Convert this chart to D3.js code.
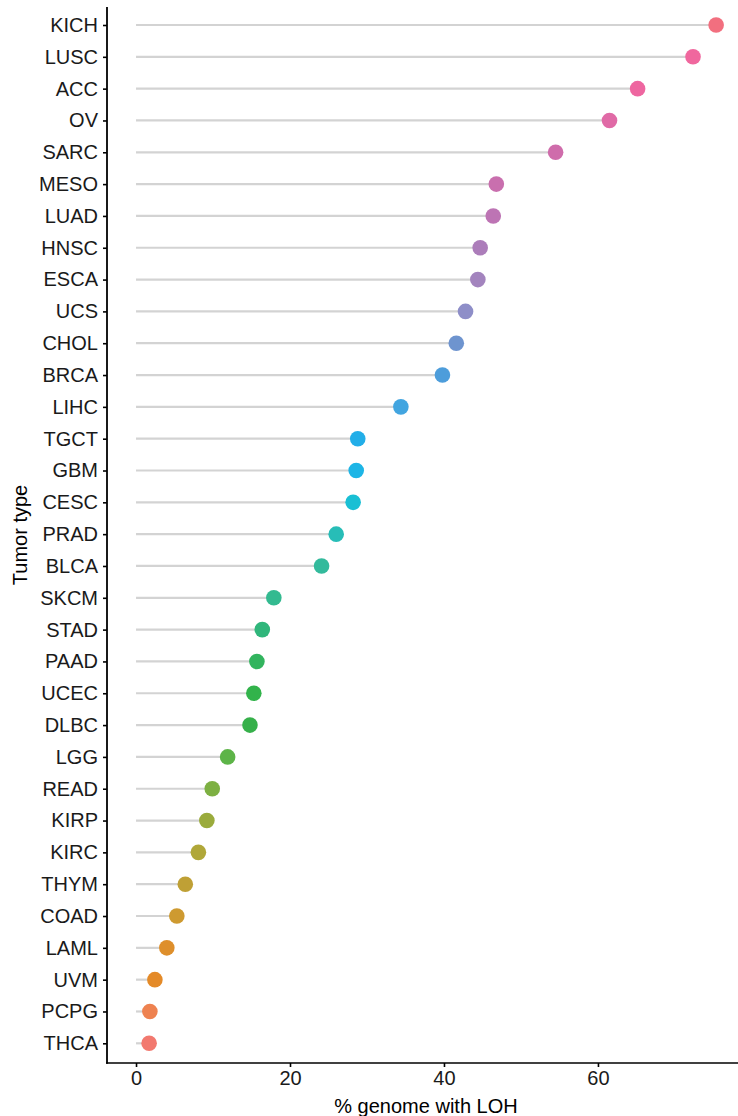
<!DOCTYPE html>
<html lang="en">
	<head>
		<meta charset="utf-8">
		<title>LOH lollipop</title>
		<script type="text/javascript" src="https://cdn.jsdelivr.net/npm/d3@7"></script>
		<style type="text/css">
			body { margin: 0; background: #fff; }
			text { font-family: "Liberation Sans", Arial, Helvetica, sans-serif; }
		</style>
	</head>
	<body>
		<script type="text/javascript">

			// tumor types, top to bottom
			let tumors = ["KICH", "LUSC", "ACC", "OV", "SARC", "MESO", "LUAD", "HNSC", "ESCA", "UCS",
				"CHOL", "BRCA", "LIHC", "TGCT", "GBM", "CESC", "PRAD", "BLCA", "SKCM", "STAD",
				"PAAD", "UCEC", "DLBC", "LGG", "READ", "KIRP", "KIRC", "THYM", "COAD", "LAML",
				"UVM", "PCPG", "THCA"];

			// % genome with LOH, same order
			let lohPct = [75.35, 72.35, 65.15, 61.5, 54.5, 46.8, 46.4, 44.7, 44.4, 42.8,
				41.6, 39.8, 34.4, 28.8, 28.6, 28.2, 26.0, 24.1, 17.9, 16.4,
				15.7, 15.3, 14.8, 11.9, 9.9, 9.2, 8.1, 6.4, 5.3, 4.0,
				2.45, 1.8, 1.7];

			// dot colours, same order
			let dotColors = ["#f26f7f", "#f0679e", "#ee66a0", "#e06aa6", "#cf6cab", "#c96fae", "#bd74b4", "#ac7dba", "#a384be", "#8e8ec8",
				"#6e94cf", "#4d9ddb", "#42a5e0", "#22aee8", "#1db5e6", "#19bfd4", "#27bdb7", "#33ba9c", "#33ba90", "#30b67b",
				"#32b45e", "#32b34b", "#36b04a", "#5db448", "#7db042", "#9aab3c", "#b0a739", "#bfa035", "#ce9a30", "#de8f2b",
				"#e48a28", "#ee8250", "#f2796f"];

			let xTicks = [0, 20, 40, 60];

			let w = 738;
			let h = 1116;

			let dataset = tumors.map((t, i)=> ({ name: t, value: lohPct[i], color: dotColors[i] }));

			let padL = 107, padR = 745, padT = 7, padB = 1063;

			let xScale = d3.scaleLinear()
				.domain([-3.77, 79.1])
				.range([padL, padR]);

			let yScale = d3.scalePoint()
				.domain(tumors)
				.range([25, 1043.3]);

			let svg = d3.select("body")
				.append("svg")
				.attr("width", w)
				.attr("height", h);

			// stems
			svg.selectAll("line.stem")
				.data(dataset)
				.enter()
				.append("line")
				.attr("class", "stem")
				.attr("x1", xScale(0))
				.attr("x2", (d)=> xScale(d.value))
				.attr("y1", (d)=> yScale(d.name))
				.attr("y2", (d)=> yScale(d.name))
				.attr("stroke", "#d3d3d3")
				.attr("stroke-width", 2.2);

			// dots
			svg.selectAll("circle.dot")
				.data(dataset)
				.enter()
				.append("circle")
				.attr("class", "dot")
				.attr("cx", (d)=> xScale(d.value))
				.attr("cy", (d)=> yScale(d.name))
				.attr("r", 7.8)
				.attr("fill", (d)=> d.color);

			// y axis
			let yAxis = d3.axisLeft(yScale).tickSize(4).tickPadding(5);
			let gy = svg.append("g")
				.attr("transform", "translate(" + padL + ",0)")
				.call(yAxis);
			gy.select(".domain").remove();
			gy.selectAll(".tick line").attr("stroke", "#000").attr("stroke-width", 1.6);
			gy.selectAll(".tick text")
				.attr("font-size", "20px")
				.attr("fill", "#1a1a1a")
				.attr("font-family", "Liberation Sans, Arial, sans-serif");

			// x axis
			let xAxis = d3.axisBottom(xScale).tickValues(xTicks).tickSize(4).tickPadding(4);
			let gx = svg.append("g")
				.attr("transform", "translate(0," + padB + ")")
				.call(xAxis);
			gx.select(".domain").remove();
			gx.selectAll(".tick line").attr("stroke", "#000").attr("stroke-width", 1.6);
			gx.selectAll(".tick text")
				.attr("font-size", "20px")
				.attr("fill", "#1a1a1a")
				.attr("font-family", "Liberation Sans, Arial, sans-serif");

			// axis lines
			svg.append("line")
				.attr("x1", padL).attr("x2", padL)
				.attr("y1", padT).attr("y2", padB + 0.8)
				.attr("stroke", "#000").attr("stroke-width", 1.8);
			svg.append("line")
				.attr("x1", padL - 0.9).attr("x2", w)
				.attr("y1", padB).attr("y2", padB)
				.attr("stroke", "#000").attr("stroke-width", 1.6);

			// titles
			svg.append("text")
				.attr("x", (padL + padR) / 2)
				.attr("y", 1113)
				.attr("text-anchor", "middle")
				.attr("font-size", "20px")
				.attr("fill", "#000")
				.text("% genome with LOH");

			svg.append("text")
				.attr("transform", "translate(27," + ((padT + padB) / 2) + ") rotate(-90)")
				.attr("text-anchor", "middle")
				.attr("font-size", "20px")
				.attr("fill", "#000")
				.text("Tumor type");

		</script>
	</body>
</html>
